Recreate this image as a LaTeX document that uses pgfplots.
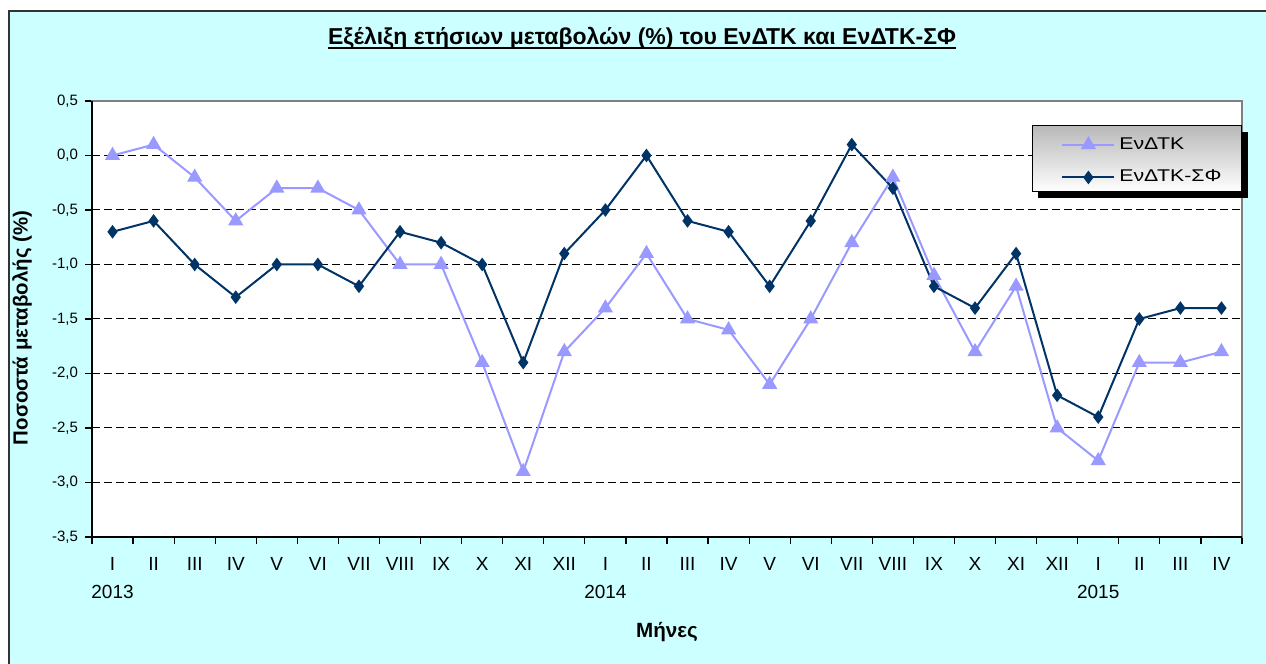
\documentclass[border=0pt]{standalone}
\usepackage{fontspec}
\setmainfont{Liberation Sans}
\usepackage{pgfplots}
\pgfplotsset{compat=1.18}
\definecolor{bgc}{HTML}{CCFFFF}
\definecolor{lilac}{HTML}{9999FF}
\definecolor{navy}{HTML}{003366}
\newfontfamily\legfont[FakeStretch=1.25]{Liberation Sans}

\pgfplotstableread{
x a b
0 0.0 -0.7
1 0.1 -0.6
2 -0.2 -1.0
3 -0.6 -1.3
4 -0.3 -1.0
5 -0.3 -1.0
6 -0.5 -1.2
7 -1.0 -0.7
8 -1.0 -0.8
9 -1.9 -1.0
10 -2.9 -1.9
11 -1.8 -0.9
12 -1.4 -0.5
13 -0.9 0.0
14 -1.5 -0.6
15 -1.6 -0.7
16 -2.1 -1.2
17 -1.5 -0.6
18 -0.8 0.1
19 -0.2 -0.3
20 -1.1 -1.2
21 -1.8 -1.4
22 -1.2 -0.9
23 -2.5 -2.2
24 -2.8 -2.4
25 -1.9 -1.5
26 -1.9 -1.4
27 -1.8 -1.4
}\datatable

\begin{document}
\begin{tikzpicture}[x=1pt,y=1pt]
\useasboundingbox (0,0) rectangle (633,332);
\fill[white] (0,0) rectangle (633,332);
\fill[bgc] (4.5,0) rectangle (633,326.5);
\draw[line width=1pt, black!80] (4.5,-2) -- (4.5,326.5) -- (636,326.5);
\node[inner sep=0pt, font=\bfseries\fontsize{11.5}{13}\selectfont] (t) at (321,313) {Εξέλιξη ετήσιων μεταβολών (\%) του ΕνΔΤΚ και ΕνΔΤΚ-ΣΦ};
\draw[line width=0.9pt] ([yshift=-2pt]t.base west) -- ([yshift=-2pt]t.base east);
\node[rotate=90, font=\bfseries\fontsize{10.2}{12}\selectfont] at (11,168) {Ποσοστά μεταβολής (\%)};
\node[font=\bfseries\fontsize{10.3}{12}\selectfont] at (333.5,16) {Μήνες};
\begin{axis}[at={(46pt,63.5pt)}, anchor=south west, scale only axis,
  width=575pt, height=218pt,
  xmin=-0.5, xmax=27.5, ymin=-3.5, ymax=0.5,
  clip=false,
  axis background/.style={fill=white},
  axis line style={draw=gray, line width=0.8pt},
  /pgf/number format/assume math mode=true,
  xtick pos=bottom, ytick pos=left,
  ytick={-3.5,-3,-2.5,-2,-1.5,-1,-0.5,0,0.5},
  yticklabel style={font=\fontsize{7.5}{9}\selectfont, /pgf/number format/.cd, fixed, fixed zerofill, precision=1, use comma},
  ymajorgrids, major grid style={black, dash pattern=on 4pt off 2pt, line width=0.5pt},
  tick align=outside, major tick length=3.5pt,
  tick style={black, line width=0.6pt},
  xtick={-0.5,0.5,...,27.5},
  xticklabels={I\\2013,II,III,IV,V,VI,VII,VIII,IX,X,XI,XII,I\\2014,II,III,IV,V,VI,VII,VIII,IX,X,XI,XII,I\\2015,II,III,IV,{}},
  xticklabel style={font=\fontsize{9.5}{14}\selectfont, align=center, xshift=10.27pt, yshift=-3pt},
  legend style={at={(0.8174,0.9427)}, anchor=north west, draw=none, fill=none,
    font=\legfont\fontsize{8.5}{10}\selectfont, inner xsep=14.5pt, inner ysep=3.5pt, row sep=5pt},
  legend cell align=left,
  legend image code/.code={\draw[mark repeat=2, mark phase=2] plot coordinates {(0pt,0pt) (13pt,0pt) (26pt,0pt)};},
]
\fill[black] ([xshift=3pt,yshift=-3pt]rel axis cs:0.8174,0.7913) rectangle ([xshift=3pt,yshift=-3pt]rel axis cs:1,0.9427);
\shade[top color=gray!55, bottom color=white, draw=black, line width=0.5pt] (rel axis cs:0.8174,0.7913) rectangle (rel axis cs:1,0.9427);
\addplot[lilac, line width=1pt, mark=triangle*, mark size=3.4pt, mark options={solid, fill=lilac, draw=lilac}] table[x=x, y=a] {\datatable};
\addlegendentry{ΕνΔΤΚ}
\addplot[navy, line width=1pt, mark=diamond*, mark size=2.6pt, mark options={solid, fill=navy, draw=navy}] table[x=x, y=b] {\datatable};
\addlegendentry{ΕνΔΤΚ-ΣΦ}
\draw[black, line width=0.8pt] (rel axis cs:0,1) -- (rel axis cs:0,0) -- (rel axis cs:1,0);
\end{axis}
\end{tikzpicture}
\end{document}
